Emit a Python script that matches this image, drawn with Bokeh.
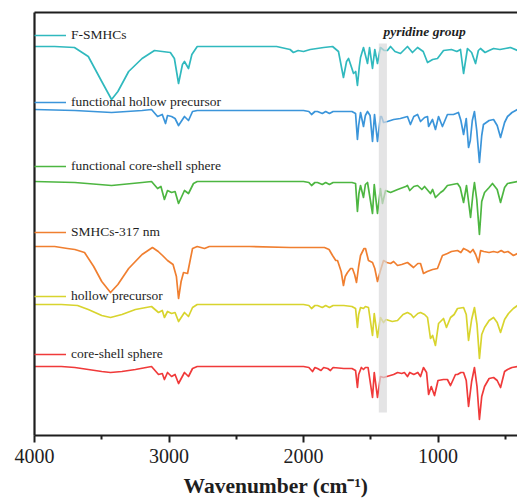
from bokeh.plotting import figure
from bokeh.models import (Range1d, FixedTicker, LinearAxis, BoxAnnotation, Label,
                          Legend, LegendItem)
from bokeh.embed import file_html
from bokeh.resources import INLINE

# ---------------- data ----------------
names = ["F-SMHCs", "functional hollow precursor", "functional core-shell sphere",
         "SMHCs-317 nm", "hollow precursor", "core-shell sphere"]
colors = ["#30b9be", "#3b95da", "#4db641", "#f07f30", "#d8d42e", "#f03a3a"]
offsets = [389, 325, 254, 189, 131, 69]          # vertical stacking offsets (a.u.)
pyridine_band = [1440, 1380]                     # cm-1

f_smhcs_wn = [4000, 3850, 3703, 3600, 3500, 3427, 3380, 3300, 3200, 3108, 3050, 2990, 2960, 2929,
              2900, 2885, 2855, 2830, 2790, 2500, 2200, 2100, 2075, 2040, 2000, 1950, 1850, 1784,
              1740, 1703, 1680, 1665, 1645, 1628, 1612, 1599, 1585, 1576, 1554, 1524, 1509, 1487,
              1470, 1450, 1428, 1400, 1376, 1353, 1320, 1279, 1227, 1190, 1152, 1110, 1078, 1040,
              1004, 959, 900, 860, 833, 810, 781, 750, 721, 700, 684, 650, 620, 587, 540, 500,
              461, 409]
f_smhcs_abs = [0, 0, 1, 10, 35, 53, 45, 25, 12, 4, 5, 6, 12, 37,
               18, 15, 22, 8, 0, 0, 0, 3, 6, 4, 5, 3, 1, 0,
               5, 31, 15, 12, 20, 27, 25, 39, 20, 11, 1, 17, 1, 22,
               3, 17, 1, 4, 4, 0, 5, 7, 0, 6, 1, 5, 16, 13,
               12, 4, 3, 5, 3, 27, 2, 6, 17, 4, 2, 6, 4, 2, 3, 2,
               1, 4]

fhp_wn = [4000, 3700, 3427, 3200, 3130, 3085, 3050, 3026, 3011, 2981, 2955, 2929, 2885, 2855,
          2825, 2790, 2000, 1960, 1940, 1915, 1896, 1860, 1835, 1807, 1780, 1700, 1640, 1613,
          1599, 1590, 1576, 1554, 1540, 1524, 1505, 1487, 1472, 1450, 1428, 1420, 1405, 1376,
          1330, 1280, 1227, 1205, 1180, 1152, 1130, 1100, 1078, 1070, 1041, 1019, 996, 967,
          930, 885, 848, 830, 810, 790, 773, 760, 745, 729, 712, 692, 675, 662, 620, 587,
          560, 535, 505, 483, 450, 409]
fhp_abs = [-1, 0, 2, 0, -1, 6, 4, 13, 5, 6, 8, 15, 6, 10,
           1, 0, 0, 1, 4, 1, 1, 3, 1, 3, 1, 1, 1, 3,
           29, 15, 2, 16, 5, 1, 5, 31, 4, 31, 6, 6, 12, 11,
           9, 8, 6, 14, 6, 4, 11, 7, 6, 16, 9, 19, 6, 16,
           4, 4, 2, 10, 24, 8, 37, 30, 10, 1, 20, 52, 25, 14, 10, 9,
           15, 27, 12, 6, 2, -1]

fcss_wn = [4000, 3700, 3427, 3200, 3130, 3085, 3060, 3034, 3011, 2981, 2955, 2929, 2885, 2855,
           2818, 2790, 2000, 1960, 1940, 1915, 1896, 1860, 1835, 1807, 1780, 1640, 1613, 1599,
           1588, 1576, 1554, 1540, 1524, 1487, 1474, 1450, 1428, 1413, 1390, 1353, 1300, 1240,
           1227, 1210, 1180, 1152, 1120, 1100, 1056, 1040, 1019, 981, 960, 930, 855, 835,
           810, 788, 758, 740, 729, 712, 692, 675, 654, 620, 595, 560, 535, 505, 483, 409]
fcss_abs = [0, 1, 4, 1, 0, 7, 5, 18, 9, 11, 10, 22, 9, 12,
            2, 0, 0, 1, 4, 1, 1, 3, 1, 3, 1, 1, 2, 30,
            12, 4, 16, 3, 1, 32, 3, 32, 7, 22, 9, 11, 8, 5,
            4, 9, 5, 4, 8, 5, 12, 8, 16, 11, 9, 4, 2, 6,
            21, 4, 36, 12, 1, 18, 53, 20, 11, 6, 2, 8, 21, 6, 2, 0]

smhcs_wn = [4000, 3850, 3755, 3700, 3628, 3560, 3500, 3435, 3380, 3300, 3200, 3123, 3080, 3048,
            3011, 2970, 2945, 2929, 2910, 2892, 2862, 2840, 2825, 2790, 2736, 2700, 2400, 2100,
            1900, 1844, 1810, 1784, 1760, 1747, 1720, 1703, 1690, 1673, 1650, 1636, 1620, 1606,
            1590, 1576, 1550, 1539, 1517, 1487, 1470, 1450, 1430, 1405, 1380, 1353, 1330, 1301,
            1270, 1227, 1200, 1182, 1150, 1130, 1108, 1080, 1040, 1004, 967, 930, 900, 855,
            830, 810, 780, 760, 740, 720, 699, 683, 660, 620, 587, 557, 530, 507, 480, 439, 409]
smhcs_abs = [0, 0, 2, 3, 6, 20, 35, 46, 38, 22, 8, 1, 5, 9,
             14, 18, 30, 52, 35, 26, 27, 12, 2, 0, 2, 0, 0, 1,
             1, 1, 3, 9, 14, 14, 25, 39, 30, 26, 22, 22, 28, 36,
             20, 9, 2, 2, 14, 16, 22, 35, 25, 14, 16, 17, 15, 19,
             18, 16, 19, 21, 17, 17, 27, 25, 23, 22, 9, 7, 5, 4,
             6, 2, 4, 6, 3, 8, 16, 4, 5, 6, 5, 6, 4, 6, 5, 9, 7]

hp_wn = [4000, 3800, 3680, 3600, 3500, 3435, 3350, 3250, 3130, 3078, 3050, 3034, 3011, 2981,
         2955, 2929, 2885, 2855, 2825, 2790, 2000, 1960, 1940, 1915, 1896, 1860, 1835, 1807,
         1780, 1700, 1640, 1613, 1599, 1590, 1576, 1554, 1540, 1517, 1487, 1474, 1450, 1428,
         1405, 1387, 1340, 1301, 1260, 1227, 1200, 1182, 1150, 1130, 1100, 1078, 1056, 1040,
         1019, 996, 959, 937, 907, 880, 855, 810, 790, 773, 750, 729, 710, 692, 675, 654,
         620, 587, 560, 535, 505, 476, 440, 409]
hp_abs = [0, 0, 1, 5, 11, 13, 10, 5, 2, 8, 6, 13, 7, 9,
          8, 17, 8, 12, 3, 0, 0, 1, 4, 1, 1, 3, 1, 3,
          1, 1, 2, 4, 23, 10, 3, 4, 2, 3, 31, 9, 33, 13,
          18, 15, 17, 16, 10, 8, 10, 13, 9, 8, 10, 13, 34, 31,
          41, 19, 14, 23, 13, 10, 4, 3, 10, 36, 15, 3, 20, 54, 30, 23,
          16, 13, 18, 28, 15, 9, 4, 1]

css_wn = [4000, 3800, 3700, 3600, 3500, 3435, 3350, 3250, 3130, 3078, 3050, 3034, 3011, 2981,
          2955, 2929, 2885, 2855, 2825, 2790, 2000, 1960, 1933, 1915, 1896, 1870, 1850, 1820,
          1800, 1780, 1700, 1640, 1613, 1599, 1590, 1570, 1554, 1540, 1520, 1487, 1474, 1450,
          1428, 1405, 1380, 1330, 1300, 1270, 1250, 1227, 1210, 1180, 1150, 1130, 1108, 1085,
          1070, 1050, 1026, 1000, 960, 930, 907, 870, 855, 830, 810, 790, 773, 750, 729, 710,
          692, 675, 654, 620, 587, 560, 535, 505, 483, 450, 409]
css_abs = [0, 0, 1, 3, 5, 6, 5, 3, 0, 8, 7, 13, 6, 10,
           8, 17, 6, 10, 2, 0, 0, 1, 5, 1, 2, 4, 1, 2,
           4, 1, 2, 2, 4, 21, 8, 1, 3, 1, 1, 31, 6, 31,
           10, 11, 10, 8, 6, 7, 6, 10, 6, 8, 6, 10, 1, 6,
           28, 20, 29, 14, 13, 13, 19, 8, 8, 6, 6, 14, 40, 15, 1, 20,
           53, 30, 20, 12, 11, 14, 21, 5, 3, 1, 0]

spectra_wn = [f_smhcs_wn, fhp_wn, fcss_wn, smhcs_wn, hp_wn, css_wn]
spectra_abs = [f_smhcs_abs, fhp_abs, fcss_abs, smhcs_abs, hp_abs, css_abs]

x_major = [4000, 3000, 2000, 1000]
x_minor = [3500, 2500, 1500, 500]

# ---------------- figure ----------------
SERIF = "Liberation Serif"
AX = "#1e1e1e"

p = figure(width=517, height=503, output_backend="svg", toolbar_location=None,
           x_range=Range1d(4000, 409), y_range=Range1d(0, 423),
           min_border_left=34, min_border_right=0, min_border_top=12, min_border_bottom=68)
p.outline_line_color = None
p.xgrid.visible = False
p.ygrid.visible = False
p.background_fill_color = "white"
p.border_fill_color = "white"

xa = p.xaxis[0]
xa.ticker = FixedTicker(ticks=x_major, minor_ticks=x_minor)
xa.axis_line_width = 2.2
xa.axis_line_color = AX
xa.major_tick_line_width = 2
xa.major_tick_line_color = AX
xa.major_tick_in = 0
xa.major_tick_out = 7
xa.minor_tick_line_width = 2
xa.minor_tick_line_color = AX
xa.minor_tick_in = 0
xa.minor_tick_out = 4
xa.major_label_text_font = SERIF
xa.major_label_text_font_size = "20px"
xa.major_label_text_color = AX
xa.major_label_standoff = 6
xa.axis_label = "Wavenumber (cm⁻¹)"
xa.axis_label_text_font = SERIF
xa.axis_label_text_font_size = "21.5px"
xa.axis_label_text_font_style = "bold"
xa.axis_label_text_color = AX
xa.axis_label_standoff = 8

ya = p.yaxis[0]
ya.ticker = FixedTicker(ticks=[])
ya.axis_line_width = 2.2
ya.axis_line_color = AX
ya.major_tick_line_color = None
ya.minor_tick_line_color = None
ya.major_label_text_font_size = "0px"

top = LinearAxis(ticker=FixedTicker(ticks=[]), axis_line_width=2.2, axis_line_color=AX,
                 major_tick_line_color=None, minor_tick_line_color=None,
                 major_label_text_font_size="0px")
p.add_layout(top, "above")

renderers = []
for wn, ab, off, col in zip(spectra_wn, spectra_abs, offsets, colors):
    y = [off - a for a in ab]
    r = p.line(wn, y, line_color=col, line_width=1.7, line_join="round")
    renderers.append(r)

band = BoxAnnotation(left=pyridine_band[1], right=pyridine_band[0], bottom=23, top=392,
                     fill_color="#d8d8da", fill_alpha=0.7, line_color=None)
p.add_layout(band)

p.add_layout(Label(x=1405, y=404, text="pyridine group", text_font=SERIF,
                   text_font_size="13.5px", text_font_style="bold italic",
                   text_color=AX, text_baseline="middle", text_align="left"))

legend_y = [392, 325, 261, 195, 131, 73]
for name, r, ly in zip(names, renderers, legend_y):
    lg = Legend(items=[LegendItem(label=name, renderers=[r])], location=(0, ly),
                padding=0, margin=0, spacing=0, glyph_width=32, glyph_height=14,
                label_height=14, label_standoff=5, border_line_color=None,
                background_fill_alpha=0, label_text_font=SERIF,
                label_text_font_size="13.5px", label_text_color=AX)
    p.add_layout(lg)

open("out.html", "w").write(file_html(p, INLINE))
